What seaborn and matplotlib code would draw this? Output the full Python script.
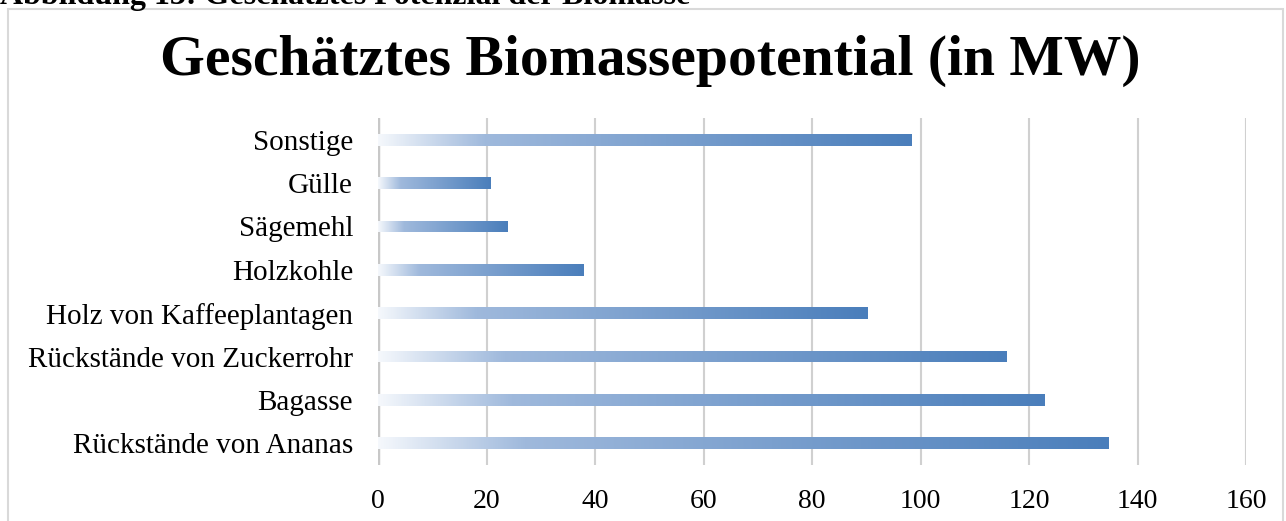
import numpy as np
import matplotlib
matplotlib.use("Agg")
import matplotlib.pyplot as plt
from matplotlib.colors import LinearSegmentedColormap
from matplotlib.patches import Rectangle
import seaborn as sns

# data (top to bottom)
categories = ["Sonstige", "Gülle", "Sägemehl", "Holzkohle",
              "Holz von Kaffeeplantagen", "Rückstände von Zuckerrohr",
              "Bagasse", "Rückstände von Ananas"]
values = [98.4, 20.8, 23.8, 37.8, 90.3, 115.9, 122.9, 134.6]
x_ticks = [0, 20, 40, 60, 80, 100, 120, 140, 160]

sns.set_theme(style="white")
plt.rcParams["font.family"] = ["Liberation Serif", "DejaVu Serif"]
plt.rcParams["text.color"] = "black"

fig = plt.figure(figsize=(12.86, 5.21), dpi=100)
ax = fig.add_axes([0.294, 0.1075, 0.675, 0.666])

sns.barplot(x=values, y=categories, orient="h", color="#4F81BD", width=0.27, ax=ax)

# gradient fill: white -> light blue -> Excel blue, along each bar
cmap = LinearSegmentedColormap.from_list(
    "grad", [(0, "#F5F8FC"), (0.2, "#9FB9DC"), (1, "#4A7EBB")])
grad = np.linspace(0, 1, 256).reshape(1, -1)
for p in ax.patches:
    x0, y0 = p.get_x(), p.get_y()
    w, h = p.get_width(), p.get_height()
    p.set_facecolor("none")
    p.set_edgecolor("none")
    im = ax.imshow(grad, cmap=cmap, aspect="auto",
                   extent=(x0, x0 + w, y0, y0 + h), zorder=3)
    im.set_clip_path(p)

ax.set_xlim(0, 160)
ax.set_ylim(len(categories) - 0.5, -0.5)
ax.set_xticks(x_ticks)
ax.set_xticklabels([str(t) for t in x_ticks])
ax.xaxis.grid(True, color="#D0D0D0", linewidth=1.5)
ax.set_axisbelow(True)
for s in ax.spines.values():
    s.set_visible(False)
ax.axvline(0, color="#C8C8C8", linewidth=2.5, zorder=1)
ax.tick_params(axis="y", length=0, pad=18, labelsize=21, labelcolor="black")
ax.tick_params(axis="x", length=0, pad=17, labelsize=20, labelcolor="black")
ax.set_xlabel("")
ax.set_ylabel("")

fig.text(0.506, 0.884, "Geschätztes Biomassepotential (in MW)",
         ha="center", va="center", fontsize=41.5, fontweight="bold", color="black")
# figure caption, cut off at the top edge as in the reference
fig.text(0.0, 0.993, "Abbildung 13: Geschätztes Potenzial der Biomasse",
         ha="left", va="baseline", fontsize=23, fontweight="bold", color="black")

fig.patches.append(Rectangle((8 / 1286, -0.05), 1275 / 1286, 1.05 - 9 / 521,
                             transform=fig.transFigure, fill=False,
                             edgecolor="#D9D9D9", linewidth=1.5))

fig.savefig("out.png", dpi=100)
